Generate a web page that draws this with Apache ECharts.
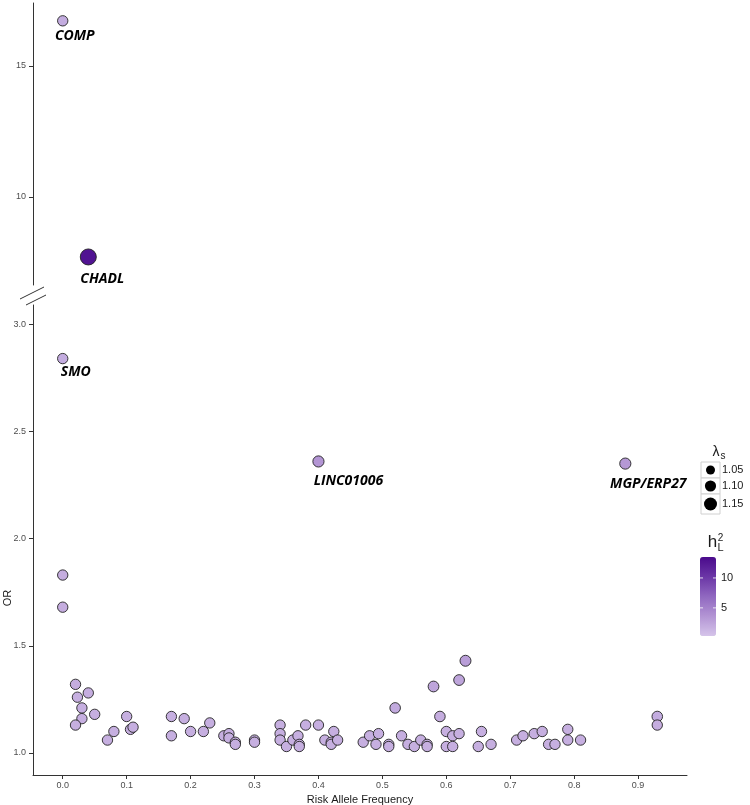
<!DOCTYPE html>
<html><head><meta charset="utf-8">
<script src="https://cdn.jsdelivr.net/npm/echarts@6/dist/echarts.min.js"></script>
<style>html,body{margin:0;padding:0;background:#fff}#c{width:750px;height:805px}</style>
</head><body><div id="c"></div>
<script>
// ---- data ----
const genes = ['COMP','CHADL','SMO','LINC01006','MGP/ERP27'];
const freq = [0.00,0.04,0.00,0.40,0.88,0.00,0.00,
  0.02,0.023,0.04,0.03,0.05,0.03,0.02,0.07,0.08,0.10,0.106,0.11,0.17,0.17,0.19,0.20,0.22,0.23,0.252,0.26,0.26,0.27,0.27,
  0.30,0.30,0.34,0.34,0.34,0.35,0.36,0.368,0.37,0.37,0.38,0.40,0.41,0.42,0.42,0.424,0.43,0.47,0.48,0.49,0.494,0.51,0.51,
  0.52,0.53,0.54,0.55,0.56,0.57,0.57,0.58,0.59,0.60,0.60,0.61,0.61,0.62,0.62,0.63,0.65,0.655,0.67,0.71,0.72,0.7375,0.75,
  0.76,0.77,0.79,0.79,0.81,0.93,0.93];
const oddsRatio = [16.72,7.71,2.84,2.36,2.35,1.83,1.68,
  1.32,1.26,1.28,1.21,1.18,1.16,1.13,1.06,1.10,1.17,1.11,1.12,1.17,1.08,1.16,1.10,1.10,1.14,1.08,1.09,1.07,1.05,1.04,
  1.06,1.05,1.13,1.09,1.06,1.03,1.06,1.08,1.04,1.03,1.13,1.13,1.06,1.05,1.04,1.10,1.06,1.05,1.08,1.04,1.09,1.04,1.03,
  1.21,1.08,1.04,1.03,1.06,1.04,1.03,1.31,1.17,1.10,1.03,1.08,1.03,1.34,1.09,1.43,1.03,1.10,1.04,1.06,1.08,1.09,1.10,
  1.04,1.04,1.11,1.06,1.06,1.17,1.13];
const lambdaS = [1.08,1.25,1.08,1.10,1.10,1.08,1.08,
  1.08,1.08,1.08,1.08,1.08,1.08,1.08,1.08,1.08,1.08,1.08,1.08,1.08,1.08,1.08,1.08,1.08,1.08,1.08,1.08,1.08,1.08,1.08,
  1.08,1.08,1.08,1.08,1.08,1.08,1.08,1.08,1.08,1.08,1.08,1.08,1.08,1.08,1.08,1.08,1.08,1.08,1.08,1.08,1.08,1.08,1.08,
  1.085,1.08,1.08,1.08,1.08,1.08,1.08,1.09,1.085,1.08,1.08,1.08,1.08,1.09,1.08,1.095,1.08,1.08,1.08,1.08,1.08,1.08,1.08,
  1.08,1.08,1.08,1.08,1.08,1.085,1.08];
const h2L = [2.0,12.8,2.0,3.6,3.4,1.9,1.9,
  1.9,1.8,1.9,1.8,1.8,1.8,1.8,1.8,1.8,1.8,1.8,1.8,1.8,1.8,1.8,1.8,1.8,1.8,1.8,1.8,1.8,1.8,1.8,
  1.8,1.8,1.8,1.8,1.8,1.8,1.8,1.8,1.8,1.8,1.8,1.8,1.8,1.8,1.8,1.8,1.8,1.8,1.8,1.8,1.8,1.8,1.8,
  2.1,1.8,1.8,1.8,1.8,1.8,1.8,2.5,1.9,1.8,1.8,1.8,1.8,2.5,1.8,3.0,1.8,1.8,1.8,1.8,1.8,1.8,1.8,
  1.8,1.8,1.8,1.8,1.8,2.0,1.9];
const xTicks = [0,0.1,0.2,0.3,0.4,0.5,0.6,0.7,0.8,0.9];
const yTicksTop = [10,15];
const yTicksBottom = [1.0,1.5,2.0,2.5,3.0];
const lambdaLegend = [1.05,1.10,1.15];
const h2Ticks = [5,10];

// ---- styling ----
const labelOffset = {'COMP':[12,15],'CHADL':[14,22],'SMO':[13,13],'LINC01006':[30,20],'MGP/ERP27':[23,20]};
const sizeOf = l => Math.sqrt(37 + 880*(l-1));
const h2Min = 0.3, h2Max = 13.5;
const barTop = 557, barH = 79, barLeft = 700, barW = 16;
const axisColor = '#333';
const tickFont = {fontFamily:'Liberation Sans', fontSize:9, color:'#4d4d4d'};

const topData = [], botData = [];
for (let i = 0; i < freq.length; i++) {
  const item = {value:[freq[i], oddsRatio[i], h2L[i], lambdaS[i]]};
  const g = genes[i];
  if (g) {
    item.name = g;
    item.label = {show:true, formatter:g, position:'inside', offset:labelOffset[g],
      fontFamily:'Open Sans', fontWeight:'bold', fontStyle:'italic', fontSize:14, color:'#000'};
  }
  (oddsRatio[i] > 5 ? topData : botData).push(item);
}

const xRange = {min:-0.0465, max:0.9765};
const chart = echarts.init(document.getElementById('c'));
const graphics = [];
// axis break marks
graphics.push({type:'line', shape:{x1:20,y1:299,x2:44,y2:287}, style:{stroke:axisColor, lineWidth:1}});
graphics.push({type:'line', shape:{x1:26,y1:305,x2:46,y2:295}, style:{stroke:axisColor, lineWidth:1}});
// OR title
graphics.push({type:'text', x:8, y:598, rotation:Math.PI/2, style:{text:'OR', fontFamily:'Liberation Sans', fontSize:11, fill:'#1a1a1a', align:'center', verticalAlign:'middle'}});
// lambda legend
graphics.push({type:'text', x:716, y:452, style:{text:'λ', fontFamily:'Liberation Sans', fontSize:14, fill:'#1a1a1a', align:'center', verticalAlign:'middle'}});
graphics.push({type:'text', x:723, y:456, style:{text:'s', fontFamily:'Liberation Sans', fontSize:10, fill:'#1a1a1a', align:'center', verticalAlign:'middle'}});
const keyRows = [[462,478],[478,494],[494,514]];
lambdaLegend.forEach((l, k) => {
  const [t, b] = keyRows[k];
  graphics.push({type:'rect', shape:{x:701,y:t,width:19,height:b-t}, style:{fill:'#fff', stroke:'#d0d0d0', lineWidth:1}});
  graphics.push({type:'circle', shape:{cx:710.5, cy:(t+b)/2, r:sizeOf(l)/2}, style:{fill:'#000'}});
  graphics.push({type:'text', x:722, y:(t+b)/2, style:{text:l.toFixed(2), fontFamily:'Liberation Sans', fontSize:11, fill:'#1a1a1a', verticalAlign:'middle'}});
});
// h2L title
graphics.push({type:'text', x:712.5, y:542, style:{text:'h', fontFamily:'Liberation Sans', fontSize:17, fill:'#1a1a1a', align:'center', verticalAlign:'middle'}});
graphics.push({type:'text', x:720.5, y:538, style:{text:'2', fontFamily:'Liberation Sans', fontSize:10, fill:'#1a1a1a', align:'center', verticalAlign:'middle'}});
graphics.push({type:'text', x:720.5, y:548, style:{text:'L', fontFamily:'Liberation Sans', fontSize:11, fill:'#1a1a1a', align:'center', verticalAlign:'middle'}});
// colorbar labels & ticks
h2Ticks.forEach(v => {
  const y = barTop + (h2Max - v)/(h2Max - h2Min)*barH;
  graphics.push({type:'text', x:721, y:y, z:100, style:{text:String(v), fontFamily:'Liberation Sans', fontSize:11, fill:'#1a1a1a', verticalAlign:'middle'}});
  graphics.push({type:'line', z:100, shape:{x1:barLeft,y1:y,x2:barLeft+3,y2:y}, style:{stroke:'#fff', lineWidth:1, opacity:0.8}});
  graphics.push({type:'line', z:100, shape:{x1:barLeft+barW-3,y1:y,x2:barLeft+barW,y2:y}, style:{stroke:'#fff', lineWidth:1, opacity:0.8}});
});

const scatterStyle = {borderColor:'#222', borderWidth:0.9, opacity:1};
chart.setOption({
  animation:false,
  backgroundColor:'#fff',
  grid:[
    {left:33, top:3, width:654, height:282, outerBoundsMode:'none', containLabel:false},
    {left:33, top:305, width:654, height:470, outerBoundsMode:'none', containLabel:false}
  ],
  xAxis:[
    {gridIndex:0, type:'value', ...xRange, show:false},
    {gridIndex:1, type:'value', ...xRange,
     name:'Risk Allele Frequency', nameLocation:'middle', nameGap:15,
     nameTextStyle:{fontFamily:'Liberation Sans', fontSize:11, color:'#1a1a1a'},
     splitLine:{show:false},
     axisLine:{show:true, onZero:false, lineStyle:{color:axisColor, width:1}},
     axisTick:{show:true, length:4, customValues:xTicks, lineStyle:{color:axisColor}},
     axisLabel:{...tickFont, margin:6, customValues:xTicks, formatter:v => v.toFixed(1)}}
  ],
  yAxis:[
    {gridIndex:0, type:'value', min:6.64, max:17.4,
     splitLine:{show:false},
     axisLine:{show:true, onZero:false, lineStyle:{color:axisColor, width:1}},
     axisTick:{show:true, length:4, customValues:yTicksTop, lineStyle:{color:axisColor}},
     axisLabel:{...tickFont, margin:7, customValues:yTicksTop, formatter:v => String(v)}},
    {gridIndex:1, type:'value', min:0.897, max:3.09,
     splitLine:{show:false},
     axisLine:{show:true, onZero:false, lineStyle:{color:axisColor, width:1}},
     axisTick:{show:true, length:4, customValues:yTicksBottom, lineStyle:{color:axisColor}},
     axisLabel:{...tickFont, margin:7, customValues:yTicksBottom, formatter:v => v.toFixed(1)}}
  ],
  visualMap:{
    type:'continuous', min:h2Min, max:h2Max, dimension:2, seriesIndex:[0,1],
    inRange:{color:['#d5c4ea','#b395d4','#9068c0','#6b36a6','#4a0a8c']},
    left:barLeft, top:barTop, itemWidth:barW, itemHeight:barH,
    orient:'vertical', calculable:false, text:null, padding:0, hoverLink:false
  },
  series:[
    {type:'scatter', xAxisIndex:0, yAxisIndex:0, data:topData,
     symbolSize:v => sizeOf(v[3]), itemStyle:scatterStyle},
    {type:'scatter', xAxisIndex:1, yAxisIndex:1, data:botData,
     symbolSize:v => sizeOf(v[3]), itemStyle:scatterStyle}
  ],
  graphic:graphics
});
</script></body></html>
